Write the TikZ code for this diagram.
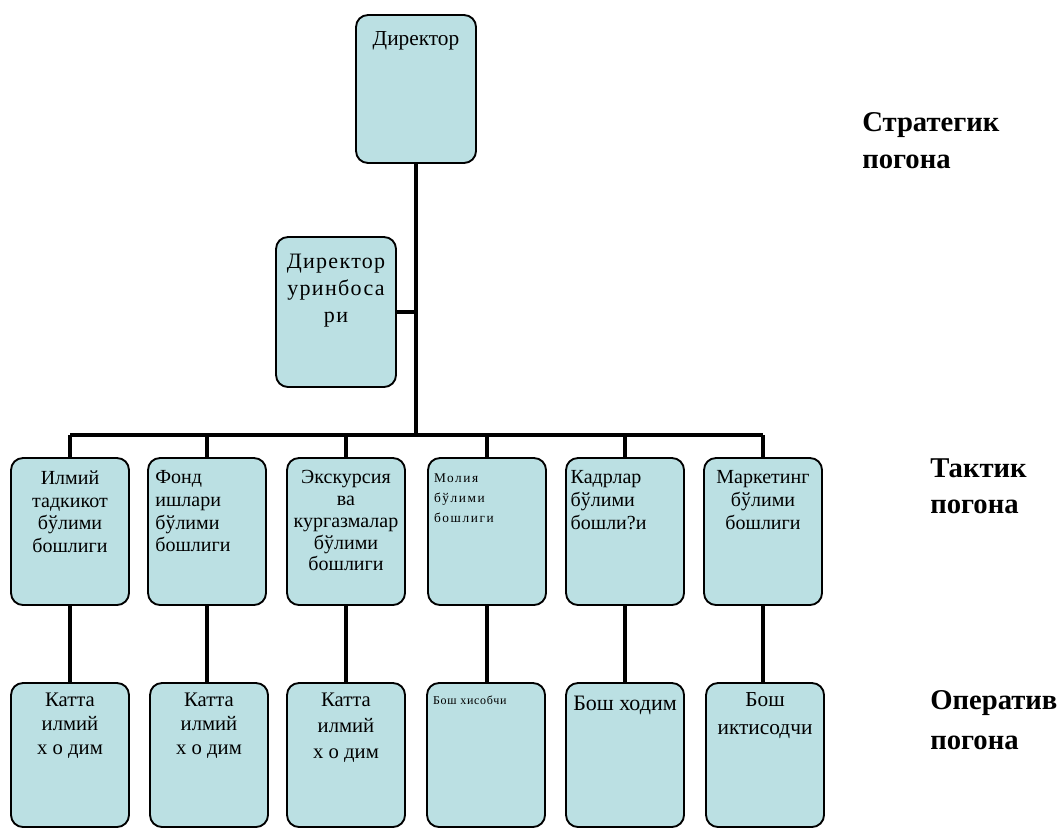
\documentclass[tikz,border=0pt]{standalone}
\usepackage{fontspec}
\setmainfont{Liberation Serif}
\definecolor{boxfill}{HTML}{BBE0E3}
\tikzset{
  unit/.style={draw=black, line width=1.4pt, fill=boxfill, rounded corners=9pt,
    inner sep=0pt, minimum width=88.5pt},
  topunit/.style={unit, minimum height=111pt},
  midunit/.style={unit, minimum height=110.25pt},
  lowunit/.style={unit, minimum height=108pt},
  link/.style={line width=2.6pt},
  caption/.style={inner sep=0pt, align=center},
  level/.style={inner sep=0pt, anchor=north west, align=left,
    font=\bfseries\fontsize{21.5}{28}\selectfont}
}
\begin{document}
\begin{tikzpicture}[x=0.75pt, y=-0.75pt]
\useasboundingbox (0,0) rectangle (1062,828);

% top management
\node[topunit, minimum width=90pt] (dir) at (416,89) {};
\node[topunit, minimum width=90pt, minimum height=112.5pt] (dep) at (336,312) {};

% department heads
\node[midunit] (h1) at (70,531.5) {};
\node[midunit] (h2) at (207,531.5) {};
\node[midunit] (h3) at (346,531.5) {};
\node[midunit] (h4) at (487,531.5) {};
\node[midunit] (h5) at (625,531.5) {};
\node[midunit] (h6) at (763,531.5) {};

% staff
\node[lowunit] (s1) at (70,755) {};
\node[lowunit] (s2) at (209,755) {};
\node[lowunit] (s3) at (346,755) {};
\node[lowunit] (s4) at (486,755) {};
\node[lowunit] (s5) at (625,755) {};
\node[lowunit] (s6) at (765,755) {};

% bus line
\coordinate (bus) at (416,435);
\coordinate (busL) at (h1.north |- bus);
\coordinate (busR) at (h6.north |- bus);
\draw[link] (dir.south) -- (bus);
\draw[link] (busL) -- (busR);
\draw[link] (dep.east) -- (dep.east -| dir.south);
\foreach \i in {1,...,6} {
  \draw[link] (h\i.north |- bus) -- (h\i.north);
  \draw[link] (h\i.south) -- (h\i.south |- s\i.north);
}

% box texts
\node[caption, anchor=north, font=\fontsize{16}{17}\selectfont] (tdir) at ([yshift=-13pt]dir.north) {Директор};
\node[caption, anchor=north, font=\addfontfeature{LetterSpace=6}\fontsize{16.5}{20.5}\selectfont] (tdep) at ([yshift=-13pt]dep.north) {Директор\\уринбоса\\ри};

\node[caption, anchor=north, font=\fontsize{15}{17}\selectfont] (th1) at ([yshift=-10pt]h1.north) {Илмий\\тадкикот\\бўлими\\бошлиги};
\node[caption, anchor=north west, align=left, font=\fontsize{15}{17}\selectfont] (th2) at ([xshift=6pt,yshift=-10pt]h2.north west) {Фонд\\ишлари\\бўлими\\бошлиги};
\node[caption, anchor=north, font=\fontsize{15}{16.3}\selectfont] (th3) at ([yshift=-10pt]h3.north) {Экскурсия\\ва\\кургазмалар\\бўлими\\бошлиги};
\node[caption, anchor=north west, align=left, font=\addfontfeature{LetterSpace=12}\fontsize{10}{15}\selectfont] (th4) at ([xshift=5pt,yshift=-12pt]h4.north west) {Молия\\бўлими\\бошлиги};
\node[caption, anchor=north west, align=left, font=\fontsize{15}{17}\selectfont] (th5) at ([xshift=4pt,yshift=-10pt]h5.north west) {Кадрлар\\бўлими\\бошли?и};
\node[caption, anchor=north, font=\fontsize{15}{17}\selectfont] (th6) at ([yshift=-10pt]h6.north) {Маркетинг\\бўлими\\бошлиги};

\node[caption, anchor=north, font=\fontsize{15.5}{18}\selectfont] (ts1) at ([yshift=-8pt]s1.north) {Катта\\илмий\\х о дим};
\node[caption, anchor=north, font=\fontsize{15.5}{18}\selectfont] (ts2) at ([yshift=-8pt]s2.north) {Катта\\илмий\\х о дим};
\node[caption, anchor=north, font=\fontsize{15.5}{19.5}\selectfont] (ts3) at ([yshift=-8pt]s3.north) {Катта\\илмий\\х о дим};
\node[caption, anchor=north west, align=left, font=\addfontfeature{LetterSpace=6}\fontsize{9}{10}\selectfont] (ts4) at ([xshift=5pt,yshift=-10pt]s4.north west) {Бош хисобчи};
\node[caption, anchor=north, font=\fontsize{16.5}{17}\selectfont] (ts5) at ([yshift=-10pt]s5.north) {Бош ходим};
\node[caption, anchor=north, font=\fontsize{16}{21}\selectfont] (ts6) at ([yshift=-8pt]s6.north) {Бош\\иктисодчи};

% management levels
\node[level] (lv1) at (862,112) {Стратегик\\погона};
\node[level, font=\bfseries\fontsize{21.5}{27}\selectfont] (lv2) at (930,458) {Тактик\\погона};
\node[level, font=\bfseries\fontsize{21.5}{30}\selectfont] (lv3) at (930,690) {Оператив\\погона};
\end{tikzpicture}
\end{document}
